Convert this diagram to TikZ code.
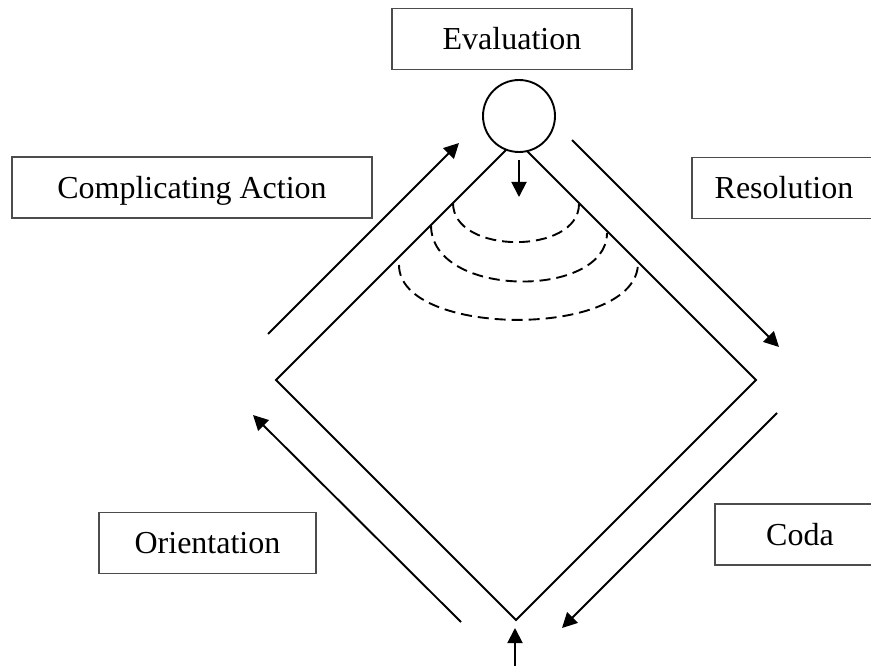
\documentclass[tikz,border=0pt]{standalone}
\usepackage{fontspec}
\setmainfont{Liberation Serif}
\usetikzlibrary{arrows.meta,calc}

\tikzset{
  stage/.style={draw=black!70, line width=1.2pt, rectangle, inner sep=0pt,
    font=\fontsize{32}{38}\selectfont, text height=21.5pt, text depth=0pt,
    minimum height=61pt, anchor=center},
  edge/.style={line width=1.9pt, line join=miter},
  flow/.style={line width=1.9pt, -{Triangle[length=15pt,width=15pt]}},
  ring/.style={line width=1.9pt, dash pattern=on 11pt off 6pt},
}

\begin{document}
\begin{tikzpicture}[x=1pt, y=-1pt]
  \useasboundingbox (0,0) rectangle (871,666);
  \clip (0,0) rectangle (871,666);

  % stage labels
  \node[stage, minimum width=240pt] (eval)   at (512,39)  {Evaluation};
  \node[stage, minimum width=360pt] (comp)   at (192,187.5) {Complicating Action};
  \node[stage, minimum width=184pt] (res)    at (784,188) {Resolution};
  \node[stage, minimum width=217pt] (orient) at (207.5,543) {Orientation};
  \node[stage, minimum width=170pt] (coda)   at (800,534.5) {Coda};

  % diamond corners
  \coordinate (top)    at (516,140);
  \coordinate (right)  at (756,380);
  \coordinate (bottom) at (516,620);
  \coordinate (left)   at (276,380);
  \draw[edge] (top) -- (right) -- (bottom) -- (left) -- cycle;

  % peak marker
  \node[circle, draw, fill=white, line width=1.9pt, minimum size=72pt, inner sep=0pt] (peak) at (519,116) {};

  % concentric dashed bands below the peak
  \coordinate (r1l) at (453,203); \coordinate (r1r) at (579,204);
  \coordinate (r2l) at (431,225); \coordinate (r2r) at (607,233);
  \coordinate (r3l) at (399,265); \coordinate (r3r) at (638,263);
  \draw[ring] (r1l) .. controls ($(r1l)+(0,52)$) and ($(r1r)+(0,51)$) .. (r1r);
  \draw[ring] (r2l) .. controls ($(r2l)+(0,74)$) and ($(r2r)+(0,66)$) .. (r2r);
  \draw[ring] (r3l) .. controls ($(r3l)+(0,73)$) and ($(r3r)+(0,76)$) .. (r3r);

  % flow arrows along the sides
  \coordinate (cA) at (268,334); \coordinate (cB) at (459,143);
  \coordinate (rA) at (572,140); \coordinate (rB) at (779,347);
  \coordinate (dA) at (777,413); \coordinate (dB) at (562,628);
  \coordinate (oA) at (461,622); \coordinate (oB) at (253,415);
  \draw[flow] (cA) -- (cB);
  \draw[flow] (rA) -- (rB);
  \draw[flow] (dA) -- (dB);
  \draw[flow] (oA) -- (oB);

  % vertical arrows at the peak and the base
  \coordinate (eA) at (519,160); \coordinate (eB) at (519,197);
  \coordinate (bA) at (515,670); \coordinate (bB) at (515,628);
  \draw[flow] (eA) -- (eB);
  \draw[flow] (bA) -- (bB);
\end{tikzpicture}
\end{document}
